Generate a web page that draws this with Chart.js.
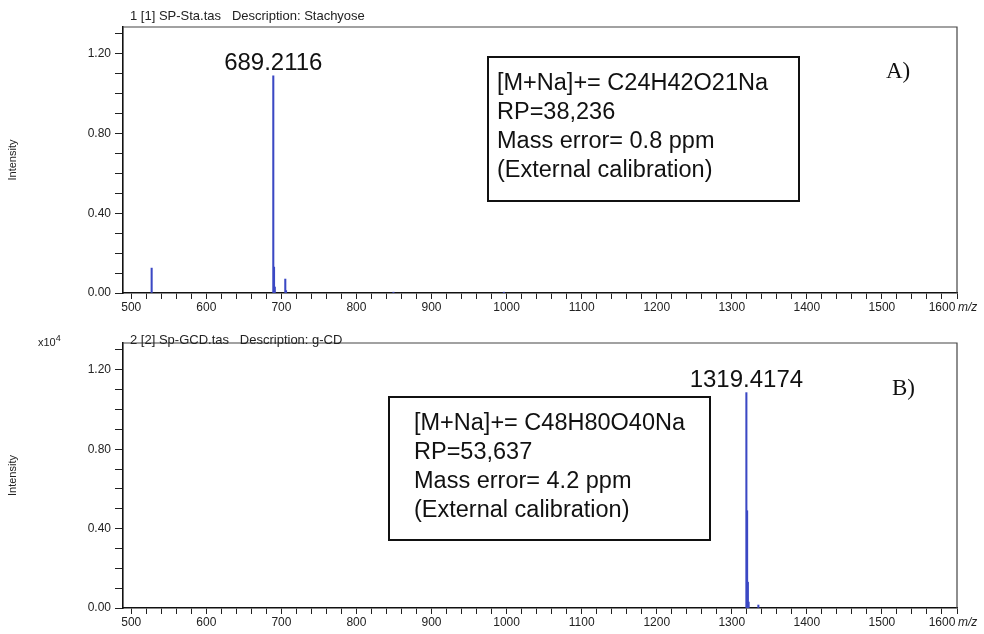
<!DOCTYPE html>
<html>
<head>
<meta charset="utf-8">
<script src="https://cdn.jsdelivr.net/npm/chart.js@4"></script>
<style>
  body { margin: 0; background: #fff; width: 984px; height: 634px; position: relative; overflow: hidden;
         font-family: "Liberation Sans", Arial, sans-serif; color: #111; }
  .panel { position: absolute; left: 0; width: 984px; }
  .hdr { position: absolute; font-size: 13px; color: #222; white-space: pre; }
  .box { position: absolute; border: 2px solid #111; box-sizing: border-box; font-size: 23.5px; line-height: 29px; }
  .tag { position: absolute; font-family: "Liberation Serif", "Times New Roman", serif; font-size: 23px; }
  .mz { position: absolute; font-size: 12px; font-style: italic; color: #222; }
  .exp { position: absolute; font-size: 11px; color: #222; }
</style>
</head>
<body>
<div class="panel" style="top:0;height:320px"><canvas id="specA"></canvas></div>
<div class="panel" style="top:320px;height:314px"><canvas id="specB"></canvas></div>

<div class="hdr" style="left:130px;top:8px">1 [1] SP-Sta.tas   Description: Stachyose</div>
<div class="hdr" style="left:130px;top:332px">2 [2] Sp-GCD.tas   Description: g-CD</div>
<div class="exp" style="left:38px;top:333px">x10<sup style="font-size:9px">4</sup></div>
<div class="mz" style="left:958px;top:300px">m/z</div>
<div class="mz" style="left:958px;top:615px">m/z</div>

<div class="box" style="left:487px;top:56px;width:313px;height:146px;padding:10px 0 0 8px">
  [M+Na]+= C24H42O21Na<br>RP=38,236<br>Mass error= 0.8 ppm<br>(External calibration)
</div>
<div class="tag" style="left:886px;top:58px">A)</div>

<div class="box" style="left:388px;top:396px;width:323px;height:145px;padding:10px 0 0 24px">
  [M+Na]+= C48H80O40Na<br>RP=53,637<br>Mass error= 4.2 ppm<br>(External calibration)
</div>
<div class="tag" style="left:892px;top:375px">B)</div>

<script>
// spectrum A: stachyose
const mzA = [527.16, 689.21, 690.21, 691.22, 705.19, 706.19, 849.3, 996.4];
const intA = [0.125, 1.09, 0.13, 0.03, 0.07, 0.012, 0.004, 0.004];
const labelA = { mz: 689.2116, text: '689.2116' };

// spectrum B: gamma-CD
const mzB = [1319.42, 1320.42, 1321.42, 1322.43, 1335.39];
const intB = [1.085, 0.49, 0.13, 0.03, 0.015];
const labelB = { mz: 1319.4174, text: '1319.4174' };

const xMin = 489, xMax = 1600;
const yMax = 1.335;

const frame = {
  id: 'frame',
  afterDraw(chart) {
    const { ctx, chartArea: a } = chart;
    ctx.save();
    ctx.strokeStyle = '#444';
    ctx.lineWidth = 1.2;
    ctx.beginPath();
    ctx.moveTo(a.left, a.top);
    ctx.lineTo(a.right, a.top);
    ctx.lineTo(a.right, a.bottom);
    ctx.stroke();
    ctx.restore();
  }
};

const peakLabel = {
  id: 'peakLabel',
  afterDatasetsDraw(chart, args, opts) {
    const { ctx, scales } = chart;
    const x = scales.x.getPixelForValue(opts.mz);
    const y = scales.y.getPixelForValue(opts.value);
    ctx.save();
    ctx.fillStyle = '#111';
    ctx.font = '24px "Liberation Sans", Arial, sans-serif';
    ctx.textAlign = 'center';
    ctx.textBaseline = 'alphabetic';
    ctx.fillText(opts.text, x, y - 6);
    ctx.restore();
  }
};

const makeSpectrum = (id, mz, intensity, label, padTop, xHeight) => {
  const ctx = document.getElementById(id).getContext('2d');
  const top = intensity[mz.findIndex(m => Math.abs(m - label.mz) < 0.5)];
  new Chart(ctx, {
    type: 'bar',
    data: {
      datasets: [{
        data: mz.map((m, i) => ({ x: m, y: intensity[i] })),
        backgroundColor: '#3b48c4',
        barThickness: 1.4,
        borderWidth: 0,
      }],
    },
    plugins: [frame, peakLabel],
    options: {
      responsive: true,
      maintainAspectRatio: false,
      animation: false,
      layout: { padding: { top: padTop, right: 27, left: 0, bottom: 0 } },
      plugins: {
        legend: { display: false },
        tooltip: { enabled: false },
        peakLabel: { mz: label.mz, value: top, text: label.text },
      },
      scales: {
        x: {
          type: 'linear',
          offset: false,
          min: xMin,
          max: xMax,
          afterFit: (s) => { s.height = xHeight; s.paddingLeft = 0; s.paddingRight = 0; },
          border: { color: '#111', width: 1.6 },
          grid: { offset: false, drawOnChartArea: false, drawTicks: true, tickLength: 6, color: '#222' },
          ticks: {
            stepSize: 20,
            includeBounds: false,
            autoSkip: false,
            maxRotation: 0,
            padding: 1,
            color: '#222',
            font: { size: 12, family: '"Liberation Sans", Arial, sans-serif' },
            callback: (v) => v % 100 === 0 ? (v === 1600 ? '1600\u2002\u2002\u2002\u2002\u2002' : String(v)) : '',
          },
        },
        y: {
          min: 0,
          max: yMax,
          afterFit: (s) => { s.width = 123; },
          border: { color: '#111', width: 1.6 },
          grid: { drawOnChartArea: false, drawTicks: true, tickLength: 8, color: '#222' },
          title: {
            display: true,
            text: 'Intensity',
            color: '#222',
            padding: { top: 6, bottom: 0 },
            font: { size: 11, family: '"Liberation Sans", Arial, sans-serif' },
          },
          ticks: {
            stepSize: 0.1,
            includeBounds: false,
            autoSkip: false,
            padding: 4,
            color: '#222',
            font: { size: 12, family: '"Liberation Sans", Arial, sans-serif' },
            callback: (v) => {
              const k = v / 0.4;
              return Math.abs(k - Math.round(k)) < 1e-6 ? v.toFixed(2) : '';
            },
          },
        },
      },
    },
  });
};

makeSpectrum('specA', mzA, intA, labelA, 27, 27);
makeSpectrum('specB', mzB, intB, labelB, 23, 26);
</script>
</body>
</html>
